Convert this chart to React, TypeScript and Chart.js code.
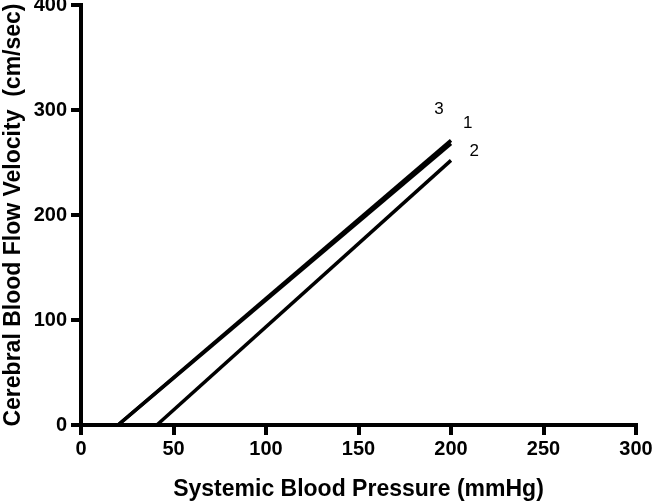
import React, { useEffect, useRef } from "react";
import { Chart, registerables } from "chart.js";

Chart.register(...registerables);

// Series: each line is defined by its end points
const line1X = [20, 200];
const line1Y = [0, 268];
const line2X = [41, 200];
const line2Y = [0, 252];
const line3X = [20, 200];
const line3Y = [0, 271];

// Line labels placed in data coordinates
const labelTexts = ["3", "1", "2"];
const labelX = [193.5, 209, 212.5];
const labelY = [301, 287, 261];

const xTicks = [0, 50, 100, 150, 200, 250, 300];
const yTicks = [0, 100, 200, 300, 400];

const xTitle = "Systemic Blood Pressure (mmHg)";
const yTitle = "Cerebral Blood Flow Velocity  (cm/sec)";

const FONT = "'Liberation Sans', Arial, Helvetica, sans-serif";

const toPoints = (xs: number[], ys: number[]) => xs.map((x, i) => ({ x, y: ys[i] }));

const labelPlugin = {
  id: "lineLabels",
  afterDatasetsDraw(chart: any) {
    const { ctx, scales } = chart;
    ctx.save();
    ctx.fillStyle = "#000";
    ctx.font = `17px ${FONT}`;
    ctx.textAlign = "center";
    ctx.textBaseline = "middle";
    labelTexts.forEach((t, i) => {
      ctx.fillText(t, scales.x.getPixelForValue(labelX[i]), scales.y.getPixelForValue(labelY[i]));
    });
    ctx.restore();
  },
};

export default function App() {
  const ref = useRef<HTMLCanvasElement | null>(null);
  useEffect(() => {
    if (!ref.current) return;
    const ds = (xs: number[], ys: number[]) => ({
      data: toPoints(xs, ys),
      showLine: true,
      borderColor: "#000",
      backgroundColor: "#000",
      borderWidth: 3.5,
      pointRadius: 0,
      borderCapStyle: "butt" as const,
    });
    const gridOpts = {
      drawOnChartArea: false,
      drawTicks: true,
      tickLength: 10,
      tickWidth: 4,
      lineWidth: 4,
      tickColor: "#000",
      color: "#000",
    };
    const chart = new Chart(ref.current, {
      type: "scatter",
      data: {
        datasets: [ds(line1X, line1Y), ds(line2X, line2Y), ds(line3X, line3Y)],
      },
      options: {
        responsive: false,
        animation: false,
        layout: { padding: { top: 5, right: 17, left: 0, bottom: 0 } },
        plugins: { legend: { display: false }, tooltip: { enabled: false } },
        scales: {
          x: {
            type: "linear",
            min: 0,
            max: 300,
            afterBuildTicks: (s: any) => {
              s.ticks = xTicks.map((v) => ({ value: v }));
            },
            afterFit: (s: any) => {
              s.height = 78;
              s.paddingLeft = 0;
              s.paddingRight = 0;
            },
            grid: gridOpts,
            border: { display: true, color: "#000", width: 4 },
            ticks: {
              color: "#000",
              padding: 2,
              maxRotation: 0,
              font: { family: FONT, size: 20, weight: "bold" },
            },
            title: {
              display: true,
              text: xTitle,
              color: "#000",
              padding: { top: 0, bottom: 0 },
              font: { family: FONT, size: 23, weight: "bold" },
            },
          },
          y: {
            type: "linear",
            min: 0,
            max: 400,
            afterBuildTicks: (s: any) => {
              s.ticks = yTicks.map((v) => ({ value: v }));
            },
            afterFit: (s: any) => {
              s.width = 81;
              s.paddingTop = 0;
              s.paddingBottom = 0;
            },
            grid: gridOpts,
            border: { display: true, color: "#000", width: 4 },
            ticks: {
              color: "#000",
              padding: 4,
              font: { family: FONT, size: 20, weight: "bold" },
            },
            title: {
              display: true,
              text: yTitle,
              color: "#000",
              padding: { top: 0, bottom: 0 },
              font: { family: FONT, size: 23, weight: "bold" },
            },
          },
        },
      },
      plugins: [labelPlugin],
    });
    return () => chart.destroy();
  }, []);
  return (
    <div style={{ position: "fixed", left: 0, top: 0, width: 653, height: 503, background: "#fff" }}>
      <canvas ref={ref} width={653} height={503} style={{ display: "block" }} />
    </div>
  );
}
